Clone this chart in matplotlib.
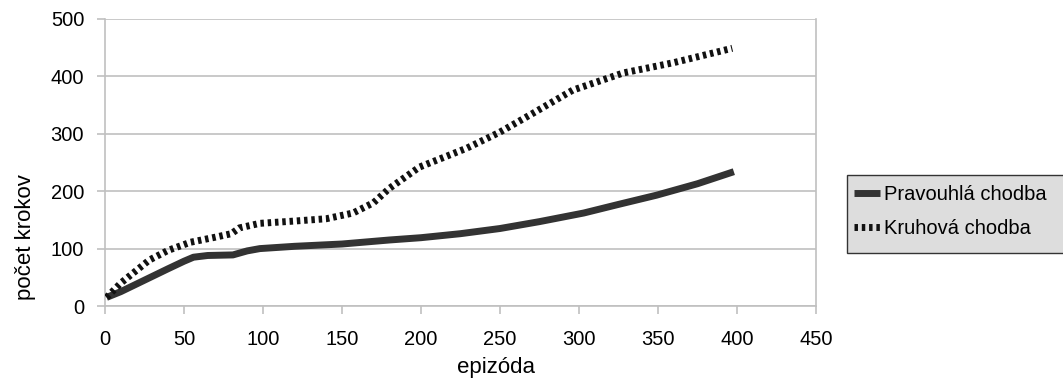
import matplotlib
matplotlib.use("Agg")
import matplotlib.pyplot as plt
from matplotlib.patches import Rectangle
from matplotlib.lines import Line2D

# data
ep_solid = [1, 10, 25, 40, 50, 56, 65, 81, 90, 98, 120, 150, 180, 200, 225, 250, 275, 303, 325, 349, 375, 398]
val_solid = [15, 25, 45, 65, 78, 85, 88, 89, 96, 100, 104, 108, 115, 119, 126, 135, 147, 162, 177, 193, 213, 234]

ep_dot = [1, 10, 28, 40, 54, 70, 80, 85, 98, 120, 140, 157, 170, 180, 199, 229, 250, 271, 296, 328, 360, 397]
val_dot = [15, 40, 80, 97, 111, 120, 126, 136, 144, 148, 152, 162, 180, 205, 242, 275, 303, 336, 376, 406, 424, 449]

x_ticks = [0, 50, 100, 150, 200, 250, 300, 350, 400, 450]
y_ticks = [0, 100, 200, 300, 400, 500]
series_names = ["Pravouhlá chodba", "Kruhová chodba"]

plt.rcParams['font.family'] = ['Liberation Sans', 'DejaVu Sans']

W, H = 1063, 383
fig = plt.figure(figsize=(W / 100, H / 100), dpi=100)
ax = fig.add_axes([105 / W, 1 - 306 / H, (816 - 105) / W, (306 - 19) / H])

grid_c = '#c0c0c0'
lw = 5
dash = (0, (0.5, 0.55))
ax.plot(ep_solid, val_solid, color='#333333', lw=lw, solid_capstyle='butt', zorder=3)
ax.plot(ep_dot, val_dot, color='#111111', lw=lw, linestyle=dash,
        dash_capstyle='butt', zorder=4)

ax.set_xlim(0, 450)
ax.set_ylim(0, 500)
ax.set_xticks(x_ticks)
ax.set_yticks(y_ticks)
ax.yaxis.grid(True, color=grid_c, lw=1.2)
ax.set_axisbelow(True)
for s in ['left', 'bottom', 'right']:
    ax.spines[s].set_color(grid_c)
    ax.spines[s].set_linewidth(1.2)
ax.spines['top'].set_visible(False)
ax.tick_params(axis='both', colors=grid_c, length=6, width=1.2, labelcolor='#000000', labelsize=14.5)
ax.tick_params(axis='x', pad=11)
ax.tick_params(axis='y', pad=9)
ax.set_xlabel('epizóda', fontsize=16, va='center', ha='center')
ax.xaxis.set_label_coords((496 - 105) / 711, (306 - 367) / 287)
ax.set_ylabel('počet krokov', fontsize=16, va='center', ha='center')
ax.yaxis.set_label_coords((25 - 105) / 711, (306 - 237) / 287)

# legend box
fig.patches.append(Rectangle((847 / W, 1 - 253 / H), (1075 - 847) / W, (253 - 175) / H,
                             transform=fig.transFigure, facecolor='#dddddd',
                             edgecolor='#333333', lw=1.0, zorder=1))
handles = [Line2D([], [], color='#333333', lw=lw, solid_capstyle='butt'),
           Line2D([], [], color='#111111', lw=lw, linestyle=dash, dash_capstyle='butt')]
fig.legend(handles, series_names, loc='upper left', bbox_to_anchor=(850 / W, 1 - 181 / H),
           frameon=False, fontsize=14.5, handlelength=1.3, handletextpad=0.2,
           labelspacing=0.75, borderpad=0.2, borderaxespad=0)

fig.savefig('out.png', dpi=100)
